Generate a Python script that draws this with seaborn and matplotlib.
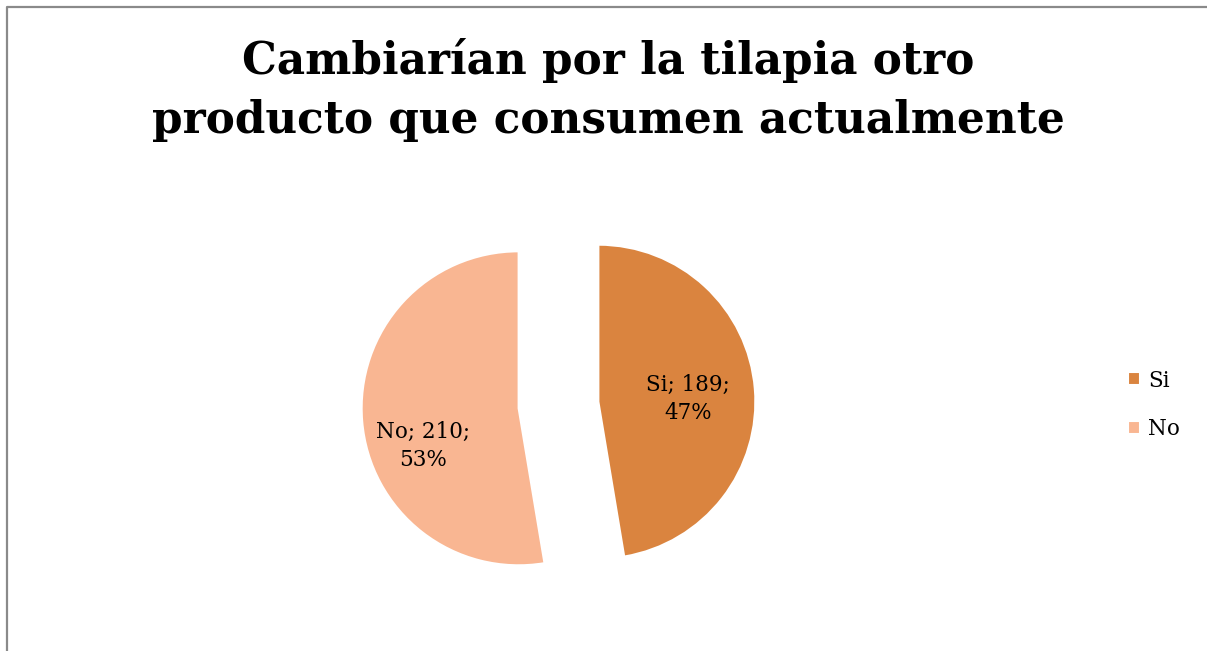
import matplotlib
matplotlib.use('Agg')
import matplotlib.pyplot as plt
import seaborn as sns
from matplotlib.lines import Line2D

sns.set_theme(style='white')
plt.rcParams['font.family'] = ['DejaVu Serif']
plt.rcParams['text.color'] = 'black'

# data
labels = ['Si', 'No']
counts = [189, 210]
colors = ['#DA843F', '#F9B692']
title = 'Cambiarían por la tilapia otro\nproducto que consumen actualmente'

W, H = 1207, 651
fig = plt.figure(figsize=(W / 100, H / 100), dpi=100)
ax = fig.add_axes([0, 0, 1, 1])

lab_iter = iter(labels)
cnt_iter = iter(counts)


def fmt(pct):
    return f'{next(lab_iter)}; {next(cnt_iter)};\n{pct:.0f}%'


wedges, _, autotexts = ax.pie(
    counts, colors=colors, startangle=90, counterclock=False,
    explode=[40, 40], radius=157, center=(558.5, H - 405),
    wedgeprops=dict(edgecolor='white', linewidth=1.5),
    autopct=fmt, pctdistance=0.6,
    textprops=dict(fontsize=15.5, color='black', linespacing=1.4))

# small nudge of the labels, as in the original layout
x, y = autotexts[1].get_position()
autotexts[1].set_position((x - 2, y - 30))
x, y = autotexts[0].get_position()
autotexts[0].set_position((x - 4, y - 5))

ax.set_xlim(0, W)
ax.set_ylim(0, H)
ax.set_aspect('auto')
ax.axis('off')

fig.text(608 / W, 1 - 90 / H, title, ha='center', va='center', color='black',
         fontsize=31.5, fontweight='bold', linespacing=1.45)

ax.legend(wedges, labels, loc='center left',
          bbox_to_anchor=(1109 / W, 1 - 405 / H), frameon=False,
          fontsize=15.5, handlelength=0.55, handleheight=0.55,
          handletextpad=0.35, labelspacing=1.25)

# chart border (top and left visible)
fig.add_artist(Line2D([7 / W, 7 / W, 1.01], [-0.01, 1 - 7 / H, 1 - 7 / H],
                      transform=fig.transFigure, color='#8a8a8a', lw=1.6))

fig.savefig('out.png', dpi=100)
